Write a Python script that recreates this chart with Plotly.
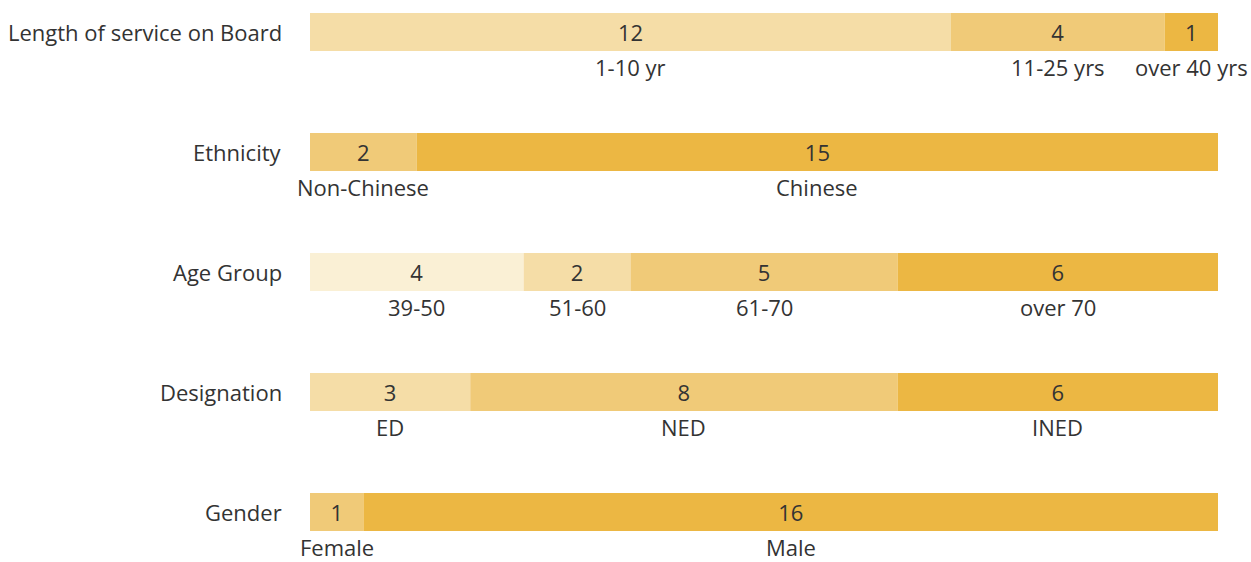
import plotly.graph_objects as go

categories = ["Length of service on Board", "Ethnicity", "Age Group", "Designation", "Gender"]
segment_labels = [
    ["1-10 yr", "11-25 yrs", "over 40 yrs"],
    ["Non-Chinese", "Chinese"],
    ["39-50", "51-60", "61-70", "over 70"],
    ["ED", "NED", "INED"],
    ["Female", "Male"],
]
segment_values = [
    [12, 4, 1],
    [2, 15],
    [4, 2, 5, 6],
    [3, 8, 6],
    [1, 16],
]
segment_colors = [
    ["#F5DDA7", "#F0CA78", "#ECB743"],
    ["#F0CA78", "#ECB743"],
    ["#FAF0D5", "#F5DDA7", "#F0CA78", "#ECB743"],
    ["#F5DDA7", "#F0CA78", "#ECB743"],
    ["#F0CA78", "#ECB743"],
]

FONT = "Open Sans"
TXT = "#333333"
FS = 22

fig = go.Figure()
annotations = []
for i, (cat, labs, vals, cols) in enumerate(zip(categories, segment_labels, segment_values, segment_colors)):
    base = 0
    for lab, v, c in zip(labs, vals, cols):
        fig.add_trace(go.Bar(
            orientation="h", x=[v], y=[i], base=[base], width=0.3167,
            marker=dict(color=c, line=dict(width=0)),
            text=[str(v)], textposition="inside", insidetextanchor="middle",
            textfont=dict(family=FONT, size=FS, color=TXT),
            showlegend=False, hoverinfo="skip",
        ))
        annotations.append(dict(
            x=base + v / 2, y=i + 0.295, xref="x", yref="y", text=lab,
            showarrow=False, xanchor="center", yanchor="middle",
            font=dict(family=FONT, size=FS, color=TXT),
        ))
        base += v
    annotations.append(dict(
        x=0, y=i, xref="paper", yref="y", text=cat, showarrow=False,
        xanchor="right", yanchor="middle", xshift=-26,
        font=dict(family=FONT, size=FS, color=TXT),
    ))

fig.update_layout(
    width=1251, height=562,
    margin=dict(l=310, r=33, t=0, b=0),
    barmode="overlay",
    plot_bgcolor="white", paper_bgcolor="white",
    xaxis=dict(range=[0, 17], visible=False, fixedrange=True),
    yaxis=dict(range=[4.4167, -0.2667], visible=False, fixedrange=True),
    annotations=annotations,
)

fig.write_html(
    "out.html",
    config={"displayModeBar": False},
    post_script="document.body.style.margin='0';document.body.style.overflow='hidden';",
)
